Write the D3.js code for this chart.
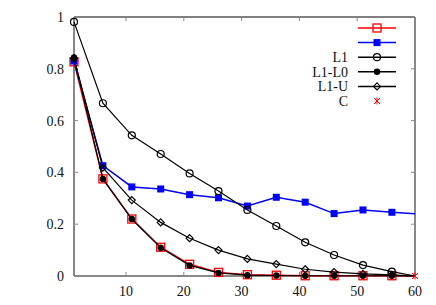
<!DOCTYPE html>
<html>
<head>
<meta charset="utf-8">
<script src="https://cdn.jsdelivr.net/npm/d3@7"></script>
<style>
  body { margin: 0; background: #fff; }
</style>
</head>
<body>
<svg id="chart" width="436" height="305"></svg>
<script>
var xs = [1, 6, 11, 16, 21, 26, 31, 36, 41, 46, 51, 56, 60];
var redVals  = [0.827, 0.375, 0.220, 0.111, 0.045, 0.014, 0.005, 0.003, 0.001, 0.001, 0.001, 0.001, 0];
var blueVals = [0.830, 0.426, 0.344, 0.336, 0.314, 0.302, 0.270, 0.304, 0.285, 0.241, 0.255, 0.246, 0.240];
var l1Vals   = [0.981, 0.667, 0.543, 0.471, 0.396, 0.328, 0.255, 0.193, 0.130, 0.081, 0.042, 0.017, 0];
var l1l0Vals = [0.844, 0.375, 0.220, 0.109, 0.041, 0.012, 0.003, 0.002, 0.001, 0.001, 0.001, 0.001, 0];
var l1uVals  = [0.840, 0.418, 0.293, 0.207, 0.146, 0.100, 0.066, 0.046, 0.026, 0.015, 0.008, 0.004, 0];
var cX = [60], cVals = [0];
var xTicks = [10, 20, 30, 40, 50, 60];
var yTicks = [0, 0.2, 0.4, 0.6, 0.8, 1];
var legendLabels = ["", "", "L1", "L1-L0", "L1-U", "C"];

(function () {
    "use strict";
    var svg = d3.select("#chart");
    var left = 74, right = 415, top = 17, bottom = 276;
    var grey = "#888";
    var serif = "'Liberation Serif', 'Times New Roman', serif";

    var x = d3.scaleLinear().domain([1, 60]).range([left, right]);
    var y = d3.scaleLinear().domain([0, 1]).range([bottom, top]);

    // frame: top black, others grey
    svg.append("line").attr("x1", left).attr("x2", right).attr("y1", top).attr("y2", top)
        .attr("stroke", "#000").attr("stroke-width", 1);

    // ticks (inward) on all sides
    var tk = svg.append("g").attr("stroke", grey).attr("stroke-width", 1);
    xTicks.forEach(function (t) {
        tk.append("line").attr("x1", x(t)).attr("x2", x(t)).attr("y1", bottom).attr("y2", bottom - 4);
        tk.append("line").attr("x1", x(t)).attr("x2", x(t)).attr("y1", top).attr("y2", top + 4);
    });
    yTicks.forEach(function (t) {
        tk.append("line").attr("x1", left).attr("x2", left + 4).attr("y1", y(t)).attr("y2", y(t));
        tk.append("line").attr("x1", right).attr("x2", right - 4).attr("y1", y(t)).attr("y2", y(t));
    });

    svg.append("line").attr("x1", left).attr("x2", left).attr("y1", top).attr("y2", bottom)
        .attr("stroke", grey).attr("stroke-width", 2);
    svg.append("line").attr("x1", right).attr("x2", right).attr("y1", top).attr("y2", bottom)
        .attr("stroke", grey).attr("stroke-width", 2);
    svg.append("line").attr("x1", left).attr("x2", right).attr("y1", bottom).attr("y2", bottom)
        .attr("stroke", grey).attr("stroke-width", 2);

    // tick labels
    svg.selectAll(".xl").data(xTicks).enter().append("text")
        .attr("x", function (d) { return x(d); }).attr("y", 296)
        .attr("font-family", serif).attr("font-size", 14).attr("fill", "#111")
        .attr("text-anchor", "middle").text(function (d) { return d; });
    svg.selectAll(".yl").data(yTicks).enter().append("text")
        .attr("x", 64).attr("y", function (d) { return y(d) + 5; })
        .attr("font-family", serif).attr("font-size", 14).attr("fill", "#111")
        .attr("text-anchor", "end").text(function (d) { return d; });

    var series = [
        {vals: redVals, color: "#ff0000", width: 1.5, marker: "osq"},
        {vals: blueVals, color: "#0000ff", width: 1.5, marker: "fsq"},
        {vals: l1Vals, color: "#000", width: 1.2, marker: "ocirc"},
        {vals: l1l0Vals, color: "#000", width: 1.2, marker: "fcirc"},
        {vals: l1uVals, color: "#000", width: 1.2, marker: "diam"}
    ];

    function drawMarker(g, kind, color) {
        if (kind === "osq") {
            g.append("rect").attr("x", -4).attr("y", -4).attr("width", 8).attr("height", 8)
                .attr("fill", "none").attr("stroke", color).attr("stroke-width", 1.3);
        } else if (kind === "fsq") {
            g.append("rect").attr("x", -3.5).attr("y", -3.5).attr("width", 7).attr("height", 7)
                .attr("fill", color);
        } else if (kind === "ocirc") {
            g.append("circle").attr("r", 3.5).attr("fill", "none").attr("stroke", color).attr("stroke-width", 1.2);
        } else if (kind === "fcirc") {
            g.append("circle").attr("r", 3.2).attr("fill", color);
        } else if (kind === "diam") {
            g.append("path").attr("d", "M0,-3.5L3.5,0L0,3.5L-3.5,0Z")
                .attr("fill", "none").attr("stroke", color).attr("stroke-width", 1.2);
        } else if (kind === "cross") {
            g.append("path").attr("d", "M-3,-3L3,3M-3,3L3,-3M0,-3.5L0,3.5")
                .attr("stroke", color).attr("stroke-width", 1);
        }
    }

    var line = d3.line().x(function (d, i) { return x(xs[i]); }).y(function (d) { return y(d); });

    series.forEach(function (s) {
        svg.append("path").datum(s.vals).attr("d", line)
            .attr("fill", "none").attr("stroke", s.color).attr("stroke-width", s.width);
        s.vals.forEach(function (v, i) {
            if (xs[i] === 60) return;
            var g = svg.append("g").attr("transform", "translate(" + x(xs[i]) + "," + y(v) + ")");
            drawMarker(g, s.marker, s.color);
        });
    });

    cVals.forEach(function (v, i) {
        var g = svg.append("g").attr("transform", "translate(" + x(cX[i]) + "," + y(v) + ")");
        drawMarker(g, "cross", "#ff0000");
    });

    // legend
    var legKinds = ["osq", "fsq", "ocirc", "fcirc", "diam", "cross"];
    var legColors = ["#ff0000", "#0000ff", "#000", "#000", "#000", "#ff0000"];
    legendLabels.forEach(function (lab, i) {
        var ly = 28 + i * 14.6;
        if (legKinds[i] !== "cross") {
            svg.append("line").attr("x1", 358).attr("x2", 396).attr("y1", ly).attr("y2", ly)
                .attr("stroke", legColors[i]).attr("stroke-width", 1.5);
        }
        var g = svg.append("g").attr("transform", "translate(377," + ly + ")");
        drawMarker(g, legKinds[i], legColors[i]);
        svg.append("text").attr("x", 348).attr("y", ly + 5).attr("text-anchor", "end")
            .attr("font-family", serif).attr("font-size", 14).attr("fill", "#111").text(lab);
    });
}());
</script>
</body>
</html>
